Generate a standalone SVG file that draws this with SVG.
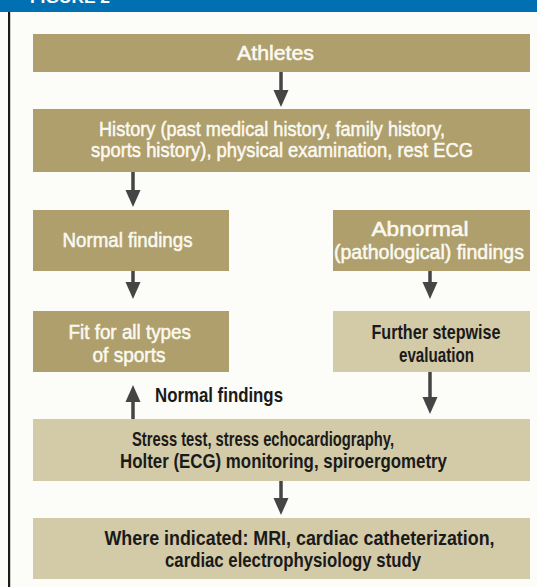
<svg xmlns="http://www.w3.org/2000/svg" width="537" height="587" viewBox="0 0 537 587">
<defs>
<style>
.bg{fill:#fcfcf8}
.band{fill:#0070b3}
.d{fill:#ae9f6c}
.l{fill:#d3caa8}
text{font-family:"Liberation Sans",Arial,sans-serif;font-size:21px}
.w{fill:#fbf9f1;stroke:#fbf9f1;stroke-width:0.55}
.k{fill:#1a1a1a;font-weight:bold;font-size:21px}
.conn line{stroke:#454545;stroke-width:3.5;fill:none}
</style>
<marker id="ah" markerUnits="userSpaceOnUse" markerWidth="18" markerHeight="16" refX="1" refY="8" orient="auto" viewBox="0 0 18 16">
<path d="M0,0.5 L17,8 L0,15.5 z" fill="#454545"/>
</marker>
</defs>
<rect class="bg" x="0" y="0" width="537" height="587"/>
<rect class="band" x="0" y="0" width="537" height="12"/>
<text x="30" y="3" style="fill:#ffffff;font-weight:bold;font-size:16px" textLength="80" lengthAdjust="spacingAndGlyphs">FIGURE 2</text>
<rect x="8" y="12" width="2.2" height="575" fill="#1a1a1a"/>

<g id="athletes">
<rect class="d" x="33" y="34" width="497" height="38"/>
<text class="w" x="237" y="60" textLength="77" lengthAdjust="spacingAndGlyphs">Athletes</text>
</g>
<g id="history">
<rect class="d" x="33" y="109" width="497" height="63"/>
<text class="w" x="99" y="136" textLength="346" lengthAdjust="spacingAndGlyphs">History (past medical history, family history,</text>
<text class="w" x="91" y="157" textLength="382" lengthAdjust="spacingAndGlyphs">sports history), physical examination, rest ECG</text>
</g>
<g id="normal">
<rect class="d" x="33" y="210" width="196" height="61"/>
<text class="w" x="62.5" y="246.5" textLength="130" lengthAdjust="spacingAndGlyphs">Normal findings</text>
</g>
<g id="abnormal">
<rect class="d" x="333" y="210" width="197" height="61"/>
<text class="w" x="371.5" y="235.5" textLength="97" lengthAdjust="spacingAndGlyphs">Abnormal</text>
<text class="w" x="334" y="258.5" textLength="190" lengthAdjust="spacingAndGlyphs">(pathological) findings</text>
</g>
<g id="fit">
<rect class="d" x="33" y="311" width="196" height="61"/>
<text class="w" x="68.5" y="339" textLength="122.5" lengthAdjust="spacingAndGlyphs">Fit for all types</text>
<text class="w" x="92.5" y="361.5" textLength="73" lengthAdjust="spacingAndGlyphs">of sports</text>
</g>
<g id="further">
<rect class="l" x="333" y="311" width="197" height="61"/>
<text class="k" x="371.5" y="339" textLength="129" lengthAdjust="spacingAndGlyphs">Further stepwise</text>
<text class="k" x="399" y="361.5" textLength="75" lengthAdjust="spacingAndGlyphs">evaluation</text>
</g>
<g id="stress">
<rect class="l" x="33" y="419" width="497" height="62"/>
<text class="k" x="132" y="446" textLength="262" lengthAdjust="spacingAndGlyphs">Stress test, stress echocardiography,</text>
<text class="k" x="120" y="467.5" textLength="327" lengthAdjust="spacingAndGlyphs">Holter (ECG) monitoring, spiroergometry</text>
</g>
<g id="where">
<rect class="l" x="33" y="518" width="497" height="61"/>
<text class="k" x="104.5" y="545" textLength="390" lengthAdjust="spacingAndGlyphs">Where indicated: MRI, cardiac catheterization,</text>
<text class="k" x="165" y="567" textLength="256" lengthAdjust="spacingAndGlyphs">cardiac electrophysiology study</text>
</g>

<g class="conn">
<line x1="281" y1="72" x2="281" y2="91" marker-end="url(#ah)"/>
<line x1="133" y1="172" x2="133" y2="191" marker-end="url(#ah)"/>
<line x1="133" y1="271" x2="133" y2="283" marker-end="url(#ah)"/>
<line x1="430" y1="271" x2="430" y2="283" marker-end="url(#ah)"/>
<line x1="430" y1="372" x2="430" y2="398" marker-end="url(#ah)"/>
<line x1="133" y1="419" x2="133" y2="401" marker-end="url(#ah)"/>
<line x1="281" y1="481" x2="281" y2="499" marker-end="url(#ah)"/>
<text class="k" x="155" y="402" textLength="128" lengthAdjust="spacingAndGlyphs">Normal findings</text>
</g>
</svg>
